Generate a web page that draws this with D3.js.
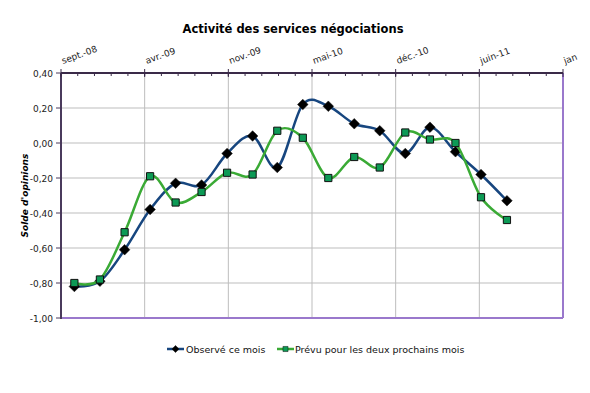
<!DOCTYPE html>
<html>
<head>
<meta charset="utf-8">
<script src="https://cdn.jsdelivr.net/npm/d3@7"></script>
<style>
  body { margin: 0; background: #fff; }
  text { font-family: Verdana, "DejaVu Sans", sans-serif; }
</style>
</head>
<body>
<div id="viz"></div>
<script>
// Activité des services négociations

const months = ["2008-11", "2009-01", "2009-03", "2009-05", "2009-07", "2009-09",
    "2009-11", "2010-01", "2010-03", "2010-05", "2010-07", "2010-09",
    "2010-11", "2011-01", "2011-03", "2011-05", "2011-07", "2011-09"];
const observe = [-0.82, -0.79, -0.61, -0.38, -0.23, -0.24, -0.06, 0.04, -0.14, 0.22,
    0.21, 0.11, 0.07, -0.06, 0.09, -0.05, -0.18, -0.33];
const prevu = [-0.80, -0.78, -0.51, -0.19, -0.34, -0.28, -0.17, -0.18, 0.07, 0.03,
    -0.20, -0.08, -0.14, 0.06, 0.02, 0.00, -0.31, -0.44];
const xTickLabels = ["sept.-08", "avr.-09", "nov.-09", "mai-10", "déc.-10", "juin-11", "jan"];
const yTicks = [0.4, 0.2, 0, -0.2, -0.4, -0.6, -0.8, -1.0];
const seriesNames = ["Observé ce mois", "Prévu pour les deux prochains mois"];

const width = 590, height = 393;
const plotLeft = 61, plotRight = 563, plotTop = 73, plotBottom = 318;

const svg = d3.select("#viz").append("svg")
    .attr("width", width)
    .attr("height", height);

const parse = d3.timeParse("%Y-%m");
const axisStart = new Date(2008, 8, 30);
const majorDays = 200;
const axisEnd = d3.timeDay.offset(axisStart, majorDays * (xTickLabels.length - 1));

const x = d3.scaleTime().domain([axisStart, axisEnd]).range([plotLeft, plotRight]);
const y = d3.scaleLinear().domain([-1, 0.4]).range([plotBottom, plotTop]);

const majorDates = xTickLabels.map((d, i) => d3.timeDay.offset(axisStart, i * majorDays));
const minorDates = d3.range(0, majorDays * (xTickLabels.length - 1), 40)
    .map(d => d3.timeDay.offset(axisStart, d));

// grid
svg.append("g").selectAll("line")
    .data(yTicks.filter(d => d > -1 && d < 0.4))
    .enter().append("line")
    .attr("x1", plotLeft).attr("x2", plotRight)
    .attr("y1", d => y(d)).attr("y2", d => y(d))
    .attr("stroke", "#bdbdbd").attr("stroke-width", 1);

svg.append("g").selectAll("line")
    .data(majorDates.slice(1, -1))
    .enter().append("line")
    .attr("x1", d => x(d)).attr("x2", d => x(d))
    .attr("y1", plotTop).attr("y2", plotBottom)
    .attr("stroke", "#bdbdbd").attr("stroke-width", 1);

// frame right / bottom
svg.append("line")
    .attr("x1", plotLeft).attr("x2", plotRight).attr("y1", plotBottom).attr("y2", plotBottom)
    .attr("stroke", "#9a78cc").attr("stroke-width", 2);
svg.append("line")
    .attr("x1", plotRight).attr("x2", plotRight).attr("y1", plotTop).attr("y2", plotBottom)
    .attr("stroke", "#9a78cc").attr("stroke-width", 2);

// left axis
svg.append("line")
    .attr("x1", plotLeft).attr("x2", plotLeft).attr("y1", plotTop).attr("y2", plotBottom + 1)
    .attr("stroke", "#4a3a5c").attr("stroke-width", 2);
svg.append("g").selectAll("line")
    .data(yTicks)
    .enter().append("line")
    .attr("x1", plotLeft - 5).attr("x2", plotLeft)
    .attr("y1", d => y(d)).attr("y2", d => y(d))
    .attr("stroke", "#4a3a5c").attr("stroke-width", 1);
svg.append("g").selectAll("text")
    .data(yTicks)
    .enter().append("text")
    .attr("x", plotLeft - 8)
    .attr("y", d => y(d) + 3.5)
    .attr("text-anchor", "end")
    .attr("font-size", "9px")
    .attr("fill", "#222")
    .text(d => d3.format(".2f")(d).replace(".", ",").replace("−", "-"));

// top axis
svg.append("line")
    .attr("x1", plotLeft).attr("x2", plotRight).attr("y1", plotTop).attr("y2", plotTop)
    .attr("stroke", "#3a2a48").attr("stroke-width", 2);
svg.append("g").selectAll("line")
    .data(minorDates)
    .enter().append("line")
    .attr("x1", d => x(d)).attr("x2", d => x(d))
    .attr("y1", plotTop).attr("y2", plotTop + 3)
    .attr("stroke", "#3a2a48").attr("stroke-width", 1);
svg.append("g").selectAll("line")
    .data(majorDates)
    .enter().append("line")
    .attr("x1", d => x(d)).attr("x2", d => x(d))
    .attr("y1", plotTop - 4).attr("y2", plotTop + 4)
    .attr("stroke", "#3a2a48").attr("stroke-width", 1);
svg.append("g").selectAll("text")
    .data(majorDates)
    .enter().append("text")
    .attr("transform", d => `translate(${x(d) + 2}, ${plotTop - 9}) rotate(-20)`)
    .attr("font-size", "9px")
    .attr("fill", "#222")
    .text((d, i) => xTickLabels[i]);

// y title
svg.append("text")
    .attr("transform", `translate(28, ${(plotTop + plotBottom) / 2}) rotate(-90)`)
    .attr("text-anchor", "middle")
    .attr("font-size", "9px")
    .attr("font-weight", "bold")
    .attr("font-style", "italic")
    .text("Solde d'opinions");

// title
svg.append("text")
    .attr("x", 293)
    .attr("y", 33)
    .attr("text-anchor", "middle")
    .attr("font-size", "11.5px")
    .attr("font-weight", "bold")
    .text("Activité des services négociations");

// series
const line = d3.line()
    .x(d => x(d.date))
    .y(d => y(d.v))
    .curve(d3.curveCardinal.tension(0));

const series = [
    { name: seriesNames[0], values: observe, stroke: "#17467f", marker: "diamond", fill: "#000" },
    { name: seriesNames[1], values: prevu, stroke: "#3aaa35", marker: "square", fill: "#0c9a55" }
];

const diamond = d3.symbol().type(d3.symbolDiamond2).size(72);
const square = d3.symbol().type(d3.symbolSquare).size(52);

series.forEach(s => {
    const pts = months.map((m, i) => ({ date: parse(m), v: s.values[i] }));
    svg.append("path")
        .datum(pts)
        .attr("d", line)
        .attr("fill", "none")
        .attr("stroke", s.stroke)
        .attr("stroke-width", 2.5);
    svg.append("g").selectAll("path")
        .data(pts)
        .enter().append("path")
        .attr("transform", d => `translate(${x(d.date)}, ${y(d.v)})`)
        .attr("d", s.marker === "diamond" ? diamond : square)
        .attr("fill", s.fill)
        .attr("stroke", "#111")
        .attr("stroke-width", s.marker === "diamond" ? 0.5 : 1);
});

// legend
const legendItems = [
    { x: 167, textX: 186 },
    { x: 277, textX: 295 }
];
series.forEach((s, i) => {
    const g = svg.append("g").attr("transform", `translate(${legendItems[i].x}, 349)`);
    g.append("line")
        .attr("x1", 0).attr("x2", 17).attr("y1", 0).attr("y2", 0)
        .attr("stroke", s.stroke).attr("stroke-width", 2.5);
    g.append("path")
        .attr("transform", "translate(8.5, 0)")
        .attr("d", s.marker === "diamond" ? d3.symbol().type(d3.symbolDiamond2).size(32) : d3.symbol().type(d3.symbolSquare).size(26))
        .attr("fill", s.fill)
        .attr("stroke", "#111")
        .attr("stroke-width", 0.5);
    svg.append("text")
        .attr("x", legendItems[i].textX)
        .attr("y", 352.5)
        .attr("font-size", "9.5px")
        .attr("fill", "#111")
        .text(s.name);
});
</script>
</body>
</html>
